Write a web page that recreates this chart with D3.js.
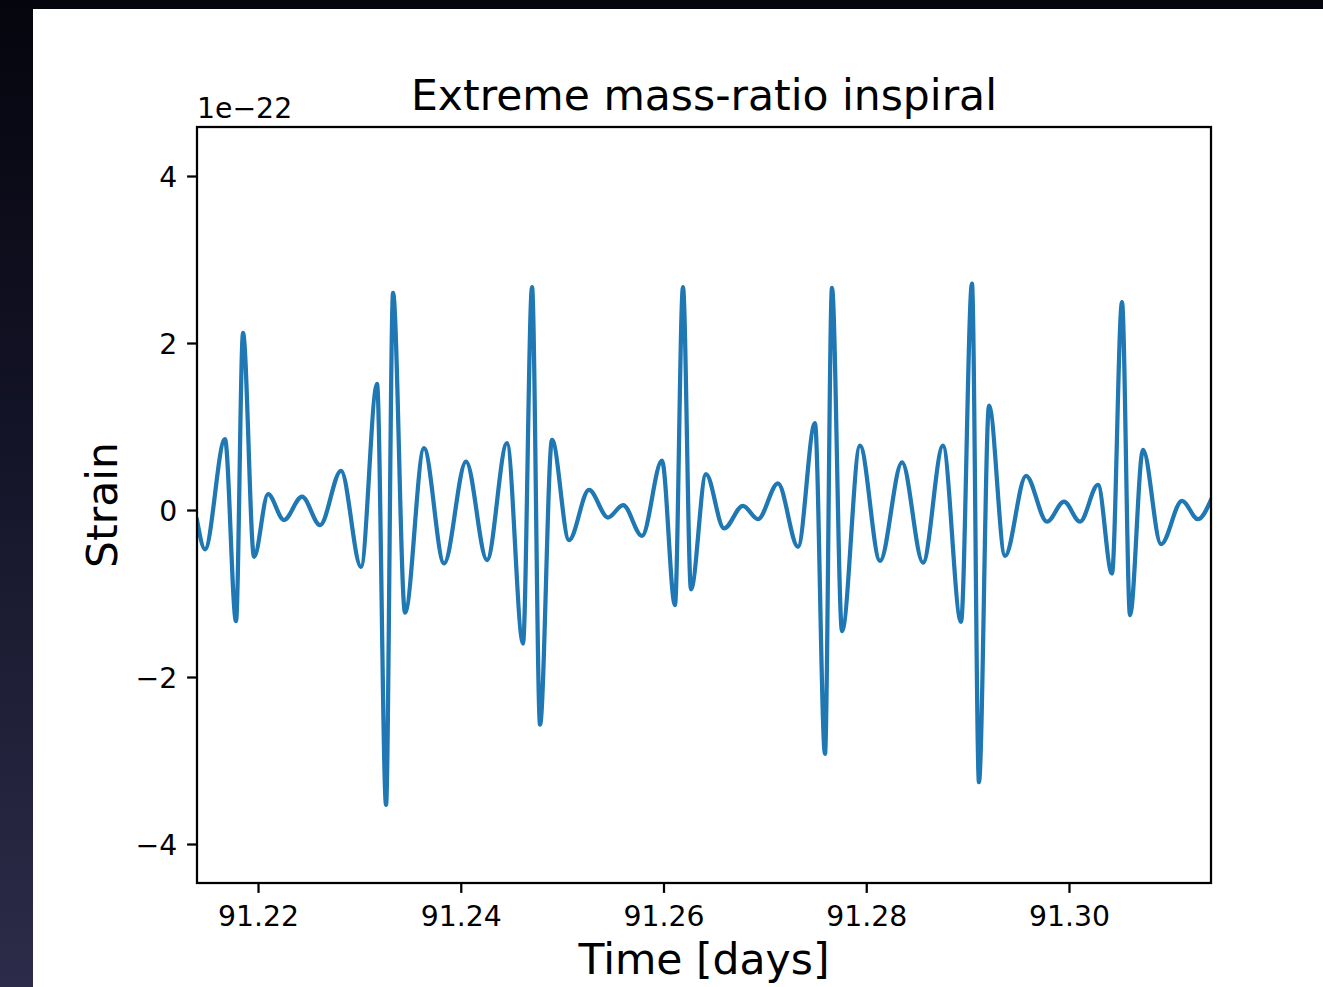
<!DOCTYPE html>
<html>
<head>
<meta charset="utf-8">
<script src="https://cdn.jsdelivr.net/npm/d3@7"></script>
<style>
  html, body { margin: 0; padding: 0; background: #05050e; }
  svg { display: block; }
  text { font-family: "DejaVu Sans", sans-serif; fill: #000; }
</style>
</head>
<body>
<svg id="chart" width="1323" height="987"></svg>
<script>
// Time of each turning point of the waveform, in days
const timeDays = [
  91.21398, 91.21477, 91.21674, 91.21783, 91.21852, 91.21961, 91.22099, 91.22256,
  91.22434, 91.22612, 91.22819, 91.23016, 91.23174, 91.23263, 91.23332, 91.23450,
  91.23637, 91.23835, 91.24052, 91.24259, 91.24456, 91.24614, 91.24703, 91.24782,
  91.24900, 91.25068, 91.25265, 91.25453, 91.25601, 91.25788, 91.25985, 91.26113,
  91.26192, 91.26271, 91.26419, 91.26597, 91.26784, 91.26932, 91.27129, 91.27327,
  91.27494, 91.27593, 91.27662, 91.27761, 91.27938, 91.28136, 91.28353, 91.28560,
  91.28757, 91.28935, 91.29043, 91.29112, 91.29211, 91.29369, 91.29576, 91.29783,
  91.29951, 91.30109, 91.30286, 91.30424, 91.30523, 91.30602, 91.30730, 91.30908,
  91.31115, 91.31273, 91.31401
];

// Strain at those times, in units of 1e-22
const strainE22 = [
  -0.12, -0.47, 0.85, -1.33, 2.12, -0.56, 0.19, -0.12,
  0.16, -0.18, 0.47, -0.68, 1.51, -3.53, 2.60, -1.23,
  0.74, -0.64, 0.58, -0.60, 0.80, -1.60, 2.67, -2.57,
  0.84, -0.36, 0.24, -0.09, 0.06, -0.31, 0.59, -1.14,
  2.67, -0.95, 0.43, -0.22, 0.05, -0.11, 0.32, -0.44,
  1.04, -2.92, 2.66, -1.45, 0.77, -0.61, 0.57, -0.63,
  0.77, -1.34, 2.71, -3.26, 1.25, -0.55, 0.41, -0.14,
  0.10, -0.14, 0.30, -0.76, 2.49, -1.26, 0.72, -0.41,
  0.11, -0.11, 0.12
];

const xTicks = [91.22, 91.24, 91.26, 91.28, 91.30];
const yTicks = [-4, -2, 0, 2, 4];
const xDomain = [91.21398, 91.31401];
const yDomain = [-4.467, 4.587];

const titleText = "Extreme mass-ratio inspiral";
const xLabelText = "Time [days]";
const yLabelText = "Strain";
const offsetText = "1e\u221222";

const svg = d3.select("#chart");
const W = 1323, H = 987;

// dark backdrop strips and the white figure panel
const defs = svg.append("defs");
const grad = defs.append("linearGradient")
  .attr("id", "edge").attr("x1", 0).attr("y1", 0).attr("x2", 0).attr("y2", 1);
grad.append("stop").attr("offset", "0%").attr("stop-color", "#05050e");
grad.append("stop").attr("offset", "45%").attr("stop-color", "#141428");
grad.append("stop").attr("offset", "100%").attr("stop-color", "#2c2c4a");
svg.append("rect").attr("x", 0).attr("y", 0).attr("width", W).attr("height", H).attr("fill", "url(#edge)");
svg.append("rect").attr("x", 0).attr("y", 0).attr("width", W).attr("height", 9).attr("fill", "#05050e");
svg.append("rect").attr("x", 33).attr("y", 9).attr("width", W - 33).attr("height", H - 9).attr("fill", "#fff");

const plot = { left: 197, top: 127, right: 1211, bottom: 883 };

const x = d3.scaleLinear().domain(xDomain).range([plot.left, plot.right]);
const y = d3.scaleLinear().domain(yDomain).range([plot.bottom, plot.top]);

defs.append("clipPath").attr("id", "plotClip")
  .append("rect")
  .attr("x", plot.left).attr("y", plot.top)
  .attr("width", plot.right - plot.left).attr("height", plot.bottom - plot.top);

const points = timeDays.map((t, i) => [t, strainE22[i]]);
const line = d3.line()
  .x(d => x(d[0]))
  .y(d => y(d[1]))
  .curve(d3.curveMonotoneX);

svg.append("path")
  .datum(points)
  .attr("clip-path", "url(#plotClip)")
  .attr("d", line)
  .attr("fill", "none")
  .attr("stroke", "#1f77b4")
  .attr("stroke-width", 4.25)
  .attr("stroke-linejoin", "round")
  .attr("stroke-linecap", "square");

// axes
const tickLen = 9.9, tickPad = 9.9;
const xAxis = d3.axisBottom(x).tickValues(xTicks).tickFormat(d3.format(".2f"))
  .tickSizeInner(tickLen).tickSizeOuter(0).tickPadding(tickPad);
const yAxis = d3.axisLeft(y).tickValues(yTicks).tickFormat(d3.format("d"))
  .tickSizeInner(tickLen).tickSizeOuter(0).tickPadding(tickPad);

const gx = svg.append("g").attr("transform", `translate(0,${plot.bottom})`).call(xAxis);
const gy = svg.append("g").attr("transform", `translate(${plot.left},0)`).call(yAxis);
[gx, gy].forEach(g => {
  g.select(".domain").remove();
  g.selectAll(".tick line").attr("stroke", "#000").attr("stroke-width", 2.26);
  g.selectAll(".tick text")
    .attr("font-family", "DejaVu Sans")
    .attr("font-size", 28.3)
    .attr("fill", "#000");
});
gx.selectAll(".tick text").attr("dy", null).attr("y", null)
  .attr("transform", `translate(0, ${tickLen + tickPad + 23})`);
gy.selectAll(".tick text").attr("dy", "0.36em");

// axes frame
svg.append("rect")
  .attr("x", plot.left).attr("y", plot.top)
  .attr("width", plot.right - plot.left).attr("height", plot.bottom - plot.top)
  .attr("fill", "none").attr("stroke", "#000").attr("stroke-width", 2.26);

// labels
svg.append("text")
  .attr("x", (plot.left + plot.right) / 2).attr("y", 110)
  .attr("text-anchor", "middle").attr("font-size", 42.5)
  .text(titleText);

svg.append("text")
  .attr("x", (plot.left + plot.right) / 2).attr("y", 974)
  .attr("text-anchor", "middle").attr("font-size", 42.5)
  .text(xLabelText);

svg.append("text")
  .attr("transform", `translate(117, ${(plot.top + plot.bottom) / 2}) rotate(-90)`)
  .attr("text-anchor", "middle").attr("font-size", 42.5)
  .text(yLabelText);

svg.append("text")
  .attr("x", plot.left).attr("y", 118)
  .attr("text-anchor", "start").attr("font-size", 28.3)
  .text(offsetText);
</script>
</body>
</html>
